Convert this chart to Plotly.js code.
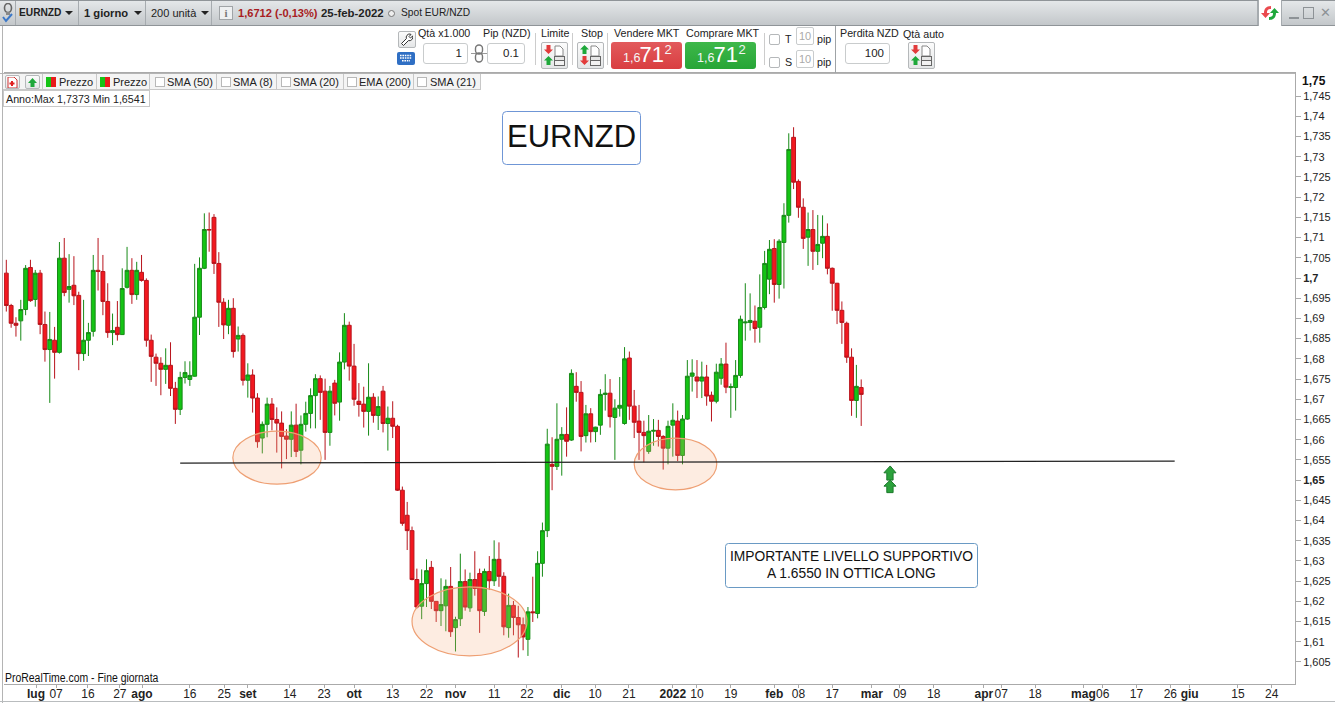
<!DOCTYPE html>
<html>
<head>
<meta charset="utf-8">
<script src="https://cdn.plot.ly/plotly-3.0.1.min.js"></script>
<style>
html,body{margin:0;padding:0;background:#fff;width:1335px;height:703px;overflow:hidden;font-family:"Liberation Sans",Arial,sans-serif;color:#222}
#chart{position:absolute;left:0;top:0;width:1335px;height:703px}
.c{position:absolute;box-sizing:border-box;white-space:nowrap;line-height:1}
</style>
</head>
<body>
<div id="chart"></div>
<div id="chrome"></div>
<script>
const symbolName = "EURNZD";
const opens = [1.7012,1.6932,1.6888,1.6894,1.6922,1.7026,1.6947,1.7012,1.6885,1.6823,1.6846,1.6816,1.7049,1.6972,1.6982,1.6957,1.6813,1.6846,1.6868,1.7019,1.7016,1.6942,1.6865,1.6878,1.6860,1.6977,1.7019,1.6959,1.7014,1.6994,1.6846,1.6804,1.6789,1.6774,1.6784,1.6727,1.6675,1.6754,1.6749,1.6757,1.6903,1.7024,1.7120,1.7150,1.7036,1.6940,1.6883,1.6925,1.6849,1.6858,1.6747,1.6760,1.6703,1.6604,1.6638,1.6688,1.6650,1.6641,1.6609,1.6601,1.6636,1.6574,1.6638,1.6665,1.6709,1.6751,1.6720,1.6618,1.6740,1.6693,1.6792,1.6883,1.6782,1.6695,1.6688,1.6670,1.6705,1.6660,1.6720,1.6640,1.6653,1.6633,1.6475,1.6413,1.6375,1.6254,1.6188,1.6244,1.6284,1.6200,1.6177,1.6189,1.6237,1.6135,1.6157,1.6249,1.6184,1.6254,1.6269,1.6175,1.6274,1.6251,1.6304,1.6262,1.6135,1.6190,1.6160,1.6142,1.6106,1.6174,1.6170,1.6294,1.6375,1.6539,1.6534,1.6601,1.6613,1.6599,1.6732,1.6717,1.6610,1.6664,1.6620,1.6636,1.6712,1.6715,1.6655,1.6678,1.6640,1.6802,1.6683,1.6646,1.6618,1.6571,1.6621,1.6623,1.6608,1.6579,1.6636,1.6646,1.6561,1.6651,1.6757,1.6755,1.6745,1.6755,1.6710,1.6695,1.6752,1.6787,1.6729,1.6729,1.6759,1.6889,1.6890,1.6893,1.6878,1.6927,1.6997,1.7073,1.6984,1.7088,1.7155,1.7348,1.7239,1.7175,1.7101,1.7120,1.7066,1.7086,1.7103,1.7024,1.6987,1.6920,1.6888,1.6804,1.6697,1.6729];
const highs = [1.7045,1.6936,1.6903,1.6946,1.7032,1.7045,1.7020,1.7020,1.6917,1.6916,1.6879,1.7089,1.7099,1.7059,1.7054,1.6966,1.6946,1.6889,1.7057,1.7099,1.7057,1.6987,1.6912,1.6943,1.7024,1.7077,1.7049,1.7040,1.7057,1.6999,1.6860,1.6813,1.6804,1.6826,1.6841,1.6743,1.6768,1.6794,1.6794,1.7035,1.7051,1.7160,1.7162,1.7158,1.7064,1.6950,1.6946,1.6950,1.6880,1.6863,1.6789,1.6774,1.6715,1.6645,1.6704,1.6703,1.6680,1.6670,1.6626,1.6670,1.6689,1.6660,1.6694,1.6727,1.6762,1.6759,1.6751,1.6733,1.6748,1.6816,1.6913,1.6892,1.6837,1.6740,1.6731,1.6789,1.6715,1.6707,1.6733,1.6682,1.6695,1.6637,1.6484,1.6446,1.6385,1.6281,1.6279,1.6304,1.6300,1.6200,1.6257,1.6254,1.6285,1.6162,1.6318,1.6279,1.6271,1.6324,1.6281,1.6281,1.6312,1.6351,1.6346,1.6272,1.6219,1.6201,1.6189,1.6160,1.6186,1.6261,1.6324,1.6395,1.6627,1.6606,1.6690,1.6631,1.6680,1.6774,1.6767,1.6745,1.6686,1.6678,1.6632,1.6725,1.6762,1.6750,1.6700,1.6755,1.6829,1.6818,1.6723,1.6686,1.6647,1.6661,1.6651,1.6649,1.6611,1.6647,1.6690,1.6672,1.6661,1.6797,1.6799,1.6797,1.6793,1.6785,1.6719,1.6788,1.6802,1.6840,1.6739,1.6797,1.6907,1.6987,1.6962,1.6932,1.7009,1.7067,1.7094,1.7096,1.7096,1.7185,1.7358,1.7373,1.7244,1.7197,1.7162,1.7168,1.7156,1.7155,1.7135,1.7026,1.6988,1.6942,1.6892,1.6826,1.6785,1.6749];
const lows = [1.6917,1.6877,1.6855,1.6845,1.6908,1.6941,1.6929,1.6861,1.6793,1.6691,1.6751,1.6813,1.6955,1.6939,1.6933,1.6772,1.6795,1.6807,1.6855,1.6969,1.6908,1.6852,1.6834,1.6845,1.6859,1.6974,1.6936,1.6946,1.6991,1.6830,1.6743,1.6733,1.6710,1.6738,1.6708,1.6639,1.6661,1.6739,1.6733,1.6756,1.6859,1.7022,1.7065,1.7010,1.6879,1.6849,1.6861,1.6803,1.6818,1.6734,1.6704,1.6667,1.6580,1.6566,1.6606,1.6623,1.6568,1.6529,1.6552,1.6557,1.6557,1.6539,1.6620,1.6628,1.6628,1.6649,1.6550,1.6585,1.6660,1.6647,1.6774,1.6746,1.6684,1.6657,1.6630,1.6610,1.6642,1.6624,1.6618,1.6573,1.6604,1.6473,1.6387,1.6327,1.6252,1.6182,1.6156,1.6186,1.6181,1.6149,1.6139,1.6126,1.6112,1.6076,1.6139,1.6177,1.6174,1.6214,1.6122,1.6164,1.6228,1.6238,1.6236,1.6116,1.6110,1.6116,1.6061,1.6079,1.6065,1.6149,1.6158,1.6261,1.6359,1.6475,1.6525,1.6511,1.6558,1.6597,1.6694,1.6571,1.6593,1.6593,1.6594,1.6612,1.6672,1.6630,1.6550,1.6657,1.6637,1.6649,1.6604,1.6550,1.6544,1.6565,1.6585,1.6583,1.6526,1.6539,1.6558,1.6547,1.6539,1.6649,1.6719,1.6703,1.6703,1.6684,1.6645,1.6690,1.6736,1.6715,1.6654,1.6672,1.6753,1.6845,1.6870,1.6840,1.6840,1.6922,1.6960,1.6939,1.6949,1.6974,1.7137,1.7220,1.7149,1.7072,1.7030,1.7020,1.7032,1.7049,1.7009,1.6919,1.6886,1.6837,1.6790,1.6659,1.6654,1.6634];
const closes = [1.6932,1.6888,1.6883,1.6922,1.7024,1.6944,1.7012,1.6885,1.6823,1.6848,1.6816,1.7049,1.6964,1.6979,1.6956,1.6813,1.6846,1.6865,1.7019,1.7016,1.6942,1.6865,1.6870,1.6860,1.6974,1.7019,1.6959,1.7019,1.6994,1.6846,1.6806,1.6789,1.6774,1.6784,1.6727,1.6675,1.6754,1.6766,1.6759,1.6903,1.7024,1.7120,1.7119,1.7036,1.6940,1.6884,1.6925,1.6818,1.6858,1.6747,1.6760,1.6703,1.6595,1.6638,1.6688,1.6650,1.6641,1.6608,1.6601,1.6636,1.6571,1.6638,1.6665,1.6709,1.6751,1.6717,1.6618,1.6720,1.6690,1.6792,1.6883,1.6782,1.6700,1.6687,1.6670,1.6705,1.6660,1.6682,1.6640,1.6653,1.6633,1.6475,1.6393,1.6375,1.6254,1.6186,1.6244,1.6276,1.6200,1.6177,1.6192,1.6237,1.6125,1.6155,1.6249,1.6186,1.6254,1.6232,1.6177,1.6274,1.6251,1.6304,1.6262,1.6137,1.6190,1.6160,1.6142,1.6112,1.6174,1.6172,1.6294,1.6375,1.6589,1.6534,1.6601,1.6613,1.6596,1.6764,1.6717,1.6608,1.6664,1.6620,1.6631,1.6712,1.6715,1.6657,1.6678,1.6685,1.6800,1.6683,1.6643,1.6618,1.6610,1.6621,1.6623,1.6608,1.6579,1.6633,1.6648,1.6561,1.6651,1.6757,1.6765,1.6745,1.6755,1.6708,1.6695,1.6767,1.6787,1.6730,1.6731,1.6759,1.6898,1.6891,1.6895,1.6875,1.6927,1.7036,1.7071,1.6984,1.7091,1.7155,1.7318,1.7237,1.7175,1.7098,1.7120,1.7066,1.7083,1.7103,1.7024,1.6987,1.6920,1.6890,1.6804,1.6697,1.6732,1.6712];

const priceTicks = [1.745,1.74,1.735,1.73,1.725,1.72,1.715,1.71,1.705,1.7,1.695,1.69,1.685,1.68,1.675,1.67,1.665,1.66,1.655,1.65,1.645,1.64,1.635,1.63,1.625,1.62,1.615,1.61,1.605];
const boldPrices = [1.7,1.65];
const dateTickSessions = [6.15,10.3,16.9,23.5,28.1,38,45.1,50,58.7,65.8,72,80,87,93,101,107.8,115,121.9,128.9,138,143,150,159,164,171,179.2,185,192,202.4,206,213,223,227,234,241,245,255,262];
const dateTickLabels = ["<b>lug</b>","07","16","27","<b>ago</b>","16","25","<b>set</b>","14","23","<b>ott</b>","13","22","<b>nov</b>","11","22","<b>dic</b>","10","21","<b>2022</b>","10","19","<b>feb</b>","08","17","<b>mar</b>","09","18","<b>apr</b>","07","18","<b>mag</b>","06","17","26","<b>giu</b>","15","24"];
const supportLineSessions = [36,241.9];
const supportLinePrices = [1.6542,1.6547];
const ellipses = [[46.9,65.2,1.6490,1.6621],[84,107.8,1.6065,1.6236],[130,147.1,1.6476,1.6604]];
const arrowSessions = {tip:183,headL:181.7,headR:184.2,stemL:182.3,stemR:183.6};
const arrowLevels = [[1.6535,1.6518,1.6500],[1.6500,1.6485,1.6469]];

const sessions = opens.map((_, i) => i);
const W = 1335, H = 703, L = 4, T = 73, PW = 1291, PH = 611;
const pxX = x => (x - L) / PW;
const pxY = y => 1 - (y - T) / PH;
const roundRect = (x0, y0, x1, y1, r) => {
  const rx = r / PW, ry = r / PH;
  const a = pxX(x0), b = pxX(x1), c = pxY(y0), d = pxY(y1);
  return `M${a+rx},${c} L${b-rx},${c} Q${b},${c} ${b},${c-ry} L${b},${d+ry} Q${b},${d} ${b-rx},${d} L${a+rx},${d} Q${a},${d} ${a},${d+ry} L${a},${c-ry} Q${a},${c} ${a+rx},${c} Z`;
};

const trace = {
  type: "candlestick", x: sessions, open: opens, high: highs, low: lows, close: closes,
  increasing: {line: {color: "#178a17", width: 1}, fillcolor: "#14c414"},
  decreasing: {line: {color: "#b8141c", width: 1}, fillcolor: "#f2181f"},
  whiskerwidth: 0, hoverinfo: "skip", showlegend: false
};

const shapes = [];
ellipses.forEach(e => shapes.push({type: "circle", xref: "x", yref: "y", x0: e[0], x1: e[1], y0: e[2], y1: e[3],
  fillcolor: "rgba(248,175,130,0.24)", line: {color: "#ee9f73", width: 1.2}, layer: "above"}));
shapes.push({type: "line", xref: "x", yref: "y", x0: supportLineSessions[0], x1: supportLineSessions[1],
  y0: supportLinePrices[0], y1: supportLinePrices[1], line: {color: "#222", width: 1.2}, layer: "above"});
arrowLevels.forEach(a => {
  const s = arrowSessions;
  shapes.push({type: "path", xref: "x", yref: "y",
    path: `M${s.tip},${a[0]} L${s.headR},${a[1]} L${s.stemR},${a[1]} L${s.stemR},${a[2]} L${s.stemL},${a[2]} L${s.stemL},${a[1]} L${s.headL},${a[1]} Z`,
    fillcolor: "#2ca23c", line: {color: "#1c7a2c", width: 1}, layer: "above"});
});
shapes.push({type: "path", xref: "paper", yref: "paper", path: roundRect(502.5, 111.5, 640.5, 164.5, 4), fillcolor: "#fff", line: {color: "#6f96d6", width: 1}, layer: "above"});
shapes.push({type: "path", xref: "paper", yref: "paper", path: roundRect(725.5, 543.5, 977.5, 587.5, 3), fillcolor: "#fff", line: {color: "#6a9ac4", width: 1}, layer: "above"});

const sans = '"Liberation Sans", Arial, sans-serif';
const ann = (x, y, text, size, family, anchor, extra) => Object.assign({xref: "paper", yref: "paper", x: pxX(x), y: pxY(y), text,
  showarrow: false, xanchor: anchor || "center", yanchor: "middle", font: {family: family || sans, size, color: "#111"}}, extra || {});

const layout = {
  width: W, height: H, margin: {l: L, r: W - L - PW, t: T, b: H - T - PH, pad: 0},
  paper_bgcolor: "#fff", plot_bgcolor: "#fff", showlegend: false, hovermode: false, dragmode: false, boxgap: 0.2, boxgroupgap: 0,
  xaxis: {type: "linear", range: [(L - 6.3) / 4.83, (L + PW - 6.3) / 4.83], rangeslider: {visible: false},
    tickmode: "array", tickvals: dateTickSessions, ticktext: dateTickLabels, ticks: "outside", ticklen: 3, tickcolor: "#aaa", tickwidth: 1,
    ticklabelstandoff: -4, tickangle: 0, tickfont: {family: sans, size: 12, color: "#222"}, showgrid: false, zeroline: false, showline: true, linecolor: "#aaa", linewidth: 1, mirror: true},
  yaxis: {type: "linear", side: "right", range: [1.7 - (T + PH - 278) / 4042, 1.7 + (278 - T) / 4042],
    tickmode: "array", tickvals: priceTicks,
    ticktext: priceTicks.map(v => { const s = String(v).replace(".", ","); return boldPrices.includes(v) ? `<b>${s}</b>` : s; }),
    ticks: "outside", ticklen: 5, tickcolor: "#aaa", tickwidth: 1, tickfont: {family: sans, size: 11, color: "#222"},
    showgrid: false, zeroline: false, showline: true, linecolor: "#aaa", linewidth: 1},
  shapes,
  annotations: [
    ann(571, 137, symbolName, 31),
    ann(851, 556, "IMPORTANTE LIVELLO SUPPORTIVO", 13.8),
    ann(851, 573, "A 1.6550 IN OTTICA LONG", 13.8),
    ann(1300, 81, "<b>1,75</b>", 12, sans, "left")
  ]
};
Plotly.newPlot("chart", [trace], layout, {displayModeBar: false, staticPlot: true});

/* application chrome around the chart */
const root = document.getElementById("chrome");
function box(x, y, w, h, css, text) {
  const d = document.createElement("div");
  d.className = "c";
  d.style.cssText = `left:${x}px;top:${y}px;width:${w}px;height:${h}px;${css || ""}`;
  if (text !== undefined) d.innerHTML = text;
  root.appendChild(d);
  return d;
}
function label(x, cy, text, size, css) {
  return box(x, cy - 8, 0, 16, `font-size:${size}px;line-height:16px;overflow:visible;${css || ""}`, text);
}
function svg(x, y, w, h, inner) {
  return box(x, y, w, h, "", `<svg width="${w}" height="${h}" viewBox="0 0 ${w} ${h}" style="display:block">${inner}</svg>`);
}
const caret = (x, cy) => svg(x, cy - 3, 8, 5, '<path d="M0 0H8L4 4Z" fill="#222"/>');

/* top bar */
box(0, 0, 1335, 26, "background:linear-gradient(#e4e7e9,#c3c7ca);border-top:1px solid #8f9498;border-bottom:1px solid #8f9498");
[15, 78, 145, 211, 1257].forEach(x => box(x, 1, 1, 24, "background:#a6abaf"));
svg(2, 3, 12, 20, '<ellipse cx="6" cy="5" rx="3.5" ry="4.5" fill="none" stroke="#666" stroke-width="1.6"/><rect x="4" y="9" width="4" height="3" fill="#888"/><path d="M1 14l3 4 6-7" fill="none" stroke="#3b78c8" stroke-width="2"/>');
label(19, 13, "EURNZD", 10.2, "font-weight:bold");
caret(65, 14);
label(84, 13, "1 giorno", 11.2, "font-weight:bold");
caret(134, 14);
label(151, 13, "200 unità", 11);
caret(201, 14);
box(219, 6, 14, 14, "background:#eef0f1;border:1px solid #a0a4a7;color:#777;font:bold 11px/12px 'Liberation Serif',serif;text-align:center", "i");
label(238, 13, "1,6712 (-0,13%)", 11.1, "font-weight:bold;color:#a81c22");
label(321, 13, "25-feb-2022", 11.4, "font-weight:bold");
box(388, 10, 7, 7, "border:1px solid #777;border-radius:50%;background:#eee");
label(401, 13, "Spot EUR/NZD", 10.2);
box(1258, 0, 24, 26, "background:#fff;border-left:1px solid #a6abaf;border-right:1px solid #a6abaf");
svg(1260, 4, 20, 18, '<path d="M11 2C6 2 4 5 4 9H1l4.5 5L10 9H7c0-3 1-4 4-4Z" fill="#ea4b4f"/><path d="M9 16c5 0 7-3 7-7h3l-4.5-5L10 9h3c0 3-1 4-4 4Z" fill="#1fa83c"/>');
box(1289, 17, 10, 2, "background:#8d9296");
box(1303, 7, 11, 12, "border:1.5px solid #8d9296");
label(1320, 13, "✕", 13, "color:#8d9296;font-family:'DejaVu Sans'");

/* left edge and footer */
box(2, 26, 1, 677, "background:#b4b4b4");
box(0, 701, 1335, 1, "background:#b9bcbe");
label(5, 677.5, "ProRealTime.com - Fine giornata", 12, "transform:scaleX(.87);transform-origin:left center;color:#111");

/* order toolbar */
const btn = "background:linear-gradient(#fcfcfc,#e4e6e7);border:1px solid #b5b8ba;border-radius:2px";
const inp = "background:#fff;border:1px solid #c9cccd;border-radius:3px;font-size:11.5px;text-align:right;padding-right:5px;line-height:19px";
const lab = 10.7;
box(398, 31, 18, 17, btn);
svg(400, 33, 13, 14, '<path d="M10 1a3.5 3.5 0 0 0-3.6 4.6L1.5 10.5 3.5 12.5 8.4 7.6A3.5 3.5 0 0 0 12.6 3L10.5 5 9 3.5l2-2Z" fill="#fff" stroke="#333" stroke-width="1"/>');
box(397, 52, 18, 13, "background:#2f6fc4;border-radius:2px");
svg(399, 54, 14, 9, '<path d="M1 1.5H13M1 4H13M3 6.8H11" stroke="#fff" stroke-width="1.4" stroke-dasharray="1.6 .8"/>');
label(418, 33, "Qtà x1.000", lab);
box(423, 43, 45, 21, inp, "1");
svg(471, 44, 16, 19, '<path d="M0 9.5H16" stroke="#999"/><rect x="4.5" y="1" width="7" height="9" rx="3.5" fill="none" stroke="#777" stroke-width="1.4"/><rect x="4.5" y="9" width="7" height="9" rx="3.5" fill="none" stroke="#777" stroke-width="1.4"/>');
label(483, 33, "Pip (NZD)", lab);
box(487, 43, 38, 21, inp, "0.1");
box(535, 33, 1, 32, "background:#ccc");
label(541, 33, "Limite", lab);
box(572, 33, 1, 32, "background:#ccc");
label(581, 33, "Stop", lab);
box(607, 33, 1, 32, "background:#ccc");
const orderIcon = (upFirst) => {
  const up = (c, y) => `<path d="M5.5 ${y} L10 ${y + 4.5} H7.5 V${y + 9} H3.5 V${y + 4.5} H1 Z" fill="${c}"/>`;
  const down = (c, y) => `<path d="M3.5 ${y} H7.5 V${y + 4.5} H10 L5.5 ${y + 9} L1 ${y + 4.5} H3.5 Z" fill="${c}"/>`;
  const a = upFirst ? up("#1ea83a", 1) + down("#e23b3b", 12) : down("#e23b3b", 1) + up("#1ea83a", 12);
  return a + '<path d="M12 2h5l3 3v7H12Z" fill="#fff" stroke="#888"/><rect x="11.5" y="12.5" width="10" height="4" fill="#e6e6e6" stroke="#666"/><rect x="11.5" y="16.5" width="10" height="5" fill="#f2f2f2" stroke="#666"/>';
};
[[541, false], [577, true], [908, false]].forEach(b => {
  box(b[0], 42, 27, 27, btn);
  svg(b[0] + 2, 44, 23, 23, orderIcon(b[1]));
});
const priceBtn = (x, css) => {
  box(x, 42, 71, 27, `border-radius:3px;${css}`);
  label(x + 12, 58, "1,6", 12.5, "color:#f5f5f5");
  label(x + 28.5, 55, "71", 22, "color:#fff");
  label(x + 53.5, 50, "2", 13, "color:#f5f5f5");
};
label(614, 33, "Vendere MKT", lab);
priceBtn(611, "background:linear-gradient(#e25a5c,#d93e41)");
label(686, 33, "Comprare MKT", lab);
priceBtn(685, "background:linear-gradient(#3eb84a,#27a537)");
box(764, 33, 1, 32, "background:#ccc");
[[34, "T", 27, 39], [57, "S", 50, 62]].forEach(r => {
  box(769, r[0], 11, 11, "background:#fff;border:1px solid #b5b8ba;border-radius:2px");
  label(785, r[3], r[1], lab);
  box(796, r[2], 18, 18, "background:#fff;border:1px solid #c9cccd;border-radius:2px;color:#aaa;font-size:11px;line-height:16px;text-align:center", "10");
  label(817, r[3], "pip", lab);
});
box(835, 26, 1, 47, "background:#9fa3a6");
box(0, 73, 1295, 1, "background:#b4b4b4");
label(840, 33, "Perdita NZD", lab);
box(845, 43, 45, 21, inp, "100");
label(903, 34, "Qtà auto", lab);

/* study legend */
box(3, 74, 477, 16, "background:#f4f4f4;border-bottom:1px solid #c8c8c8");
[[5, 15], [25, 15]].forEach(c => box(c[0], 75, c[1], 14, btn));
svg(7, 77, 11, 11, '<path d="M1 0h6l3 3v8H1Z" fill="#fff" stroke="#c33"/><path d="M5 4v5M2.5 6.5h5" stroke="#e02020" stroke-width="2"/>');
svg(27, 77, 11, 11, '<path d="M5.5 1 10 6H7.5v4h-4V6H1Z" fill="#1fa83c"/>');
[42, 96, 149, 216, 276, 343, 413, 480].forEach(x => box(x, 74, 1, 16, "background:#c8c8c8"));
[[46, 59], [100, 113]].forEach(p => {
  box(p[0], 77, 5, 10, "background:#16c416");
  box(p[0] + 5, 77, 5, 10, "background:#e81c1c");
  label(p[1], 82, "Prezzo", 11);
});
const smaNames = ["SMA (50)", "SMA (8)", "SMA (20)", "EMA (200)", "SMA (21)"];
[[155, 167], [221, 233], [281, 293], [347, 359], [417, 430]].forEach((p, i) => {
  box(p[0], 77, 10, 10, "background:#fff;border:1px solid #b8b8b8");
  label(p[1], 82, smaNames[i], 11);
});
box(3, 90, 147, 17, "background:#fff;border:1px solid #c8c8c8");
label(6, 99, "Anno:Max 1,7373 Min 1,6541", 10.7);
</script>
</body>
</html>
